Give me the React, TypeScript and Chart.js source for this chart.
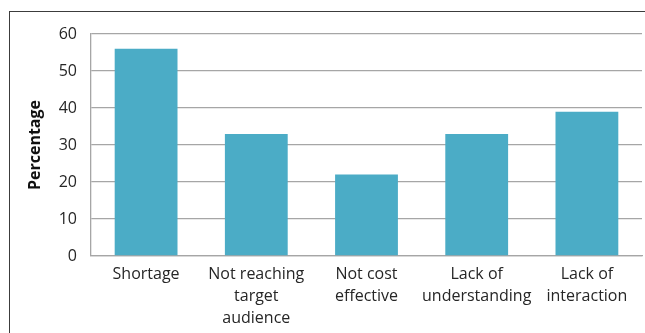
import React, { useEffect, useRef } from "react";
import { Chart, registerables } from "chart.js";

Chart.register(...registerables);

const categories: string[][] = [
  ["Shortage"],
  ["Not reaching", "target", "audience"],
  ["Not cost", "effective"],
  ["Lack of", "understanding"],
  ["Lack of", "interaction"],
];
const percentages: number[] = [56, 33, 22, 33, 39];
const yTitle = "Percentage";

export default function App() {
  const ref = useRef<HTMLCanvasElement | null>(null);
  useEffect(() => {
    if (!ref.current) return;
    const chart = new Chart(ref.current, {
      type: "bar",
      data: {
        labels: categories,
        datasets: [
          {
            data: percentages,
            backgroundColor: "#4BACC6",
            barPercentage: 0.57,
            categoryPercentage: 1,
          },
        ],
      },
      options: {
        responsive: false,
        animation: false,
        layout: { padding: { left: 0, right: 3, top: 34, bottom: 0 } },
        plugins: { legend: { display: false }, tooltip: { enabled: false } },
        scales: {
          x: {
            grid: { display: false, drawTicks: false },
            border: { display: true, color: "#a6a6a6", width: 1.3 },
            ticks: {
              color: "#262626",
              padding: 8,
              maxRotation: 0,
              autoSkip: false,
              font: { family: "'Open Sans'", size: 16, lineHeight: 1.36 },
            },
            afterFit: (s: any) => {
              s.height = 77;
            },
          },
          y: {
            min: 0,
            max: 60,
            ticks: {
              stepSize: 10,
              color: "#262626",
              padding: 14,
              font: { family: "'Open Sans'", size: 16 },
            },
            grid: { color: "#a6a6a6", lineWidth: 1.3, drawTicks: false },
            border: { display: true, color: "#a6a6a6", width: 1.3 },
            title: {
              display: true,
              text: yTitle,
              color: "#111",
              padding: { top: 26, bottom: 0 },
              font: { family: "'Open Sans'", size: 16, weight: "bold" },
            },
            afterFit: (s: any) => {
              s.width = 91;
            },
          },
        },
      },
    });
    return () => chart.destroy();
  }, []);
  return (
    <div
      style={{
        position: "fixed",
        left: 0,
        top: 0,
        width: 645,
        height: 333,
        overflow: "hidden",
        background: "#fff",
      }}
    >
      <div
        style={{
          position: "absolute",
          left: 9,
          top: 11,
          width: 800,
          height: 500,
          borderLeft: "1.5px solid #3c3c3c",
          borderTop: "1.5px solid #3c3c3c",
        }}
      />
      <canvas
        ref={ref}
        width={645}
        height={333}
        style={{ position: "absolute", left: 0, top: 0 }}
      />
    </div>
  );
}
